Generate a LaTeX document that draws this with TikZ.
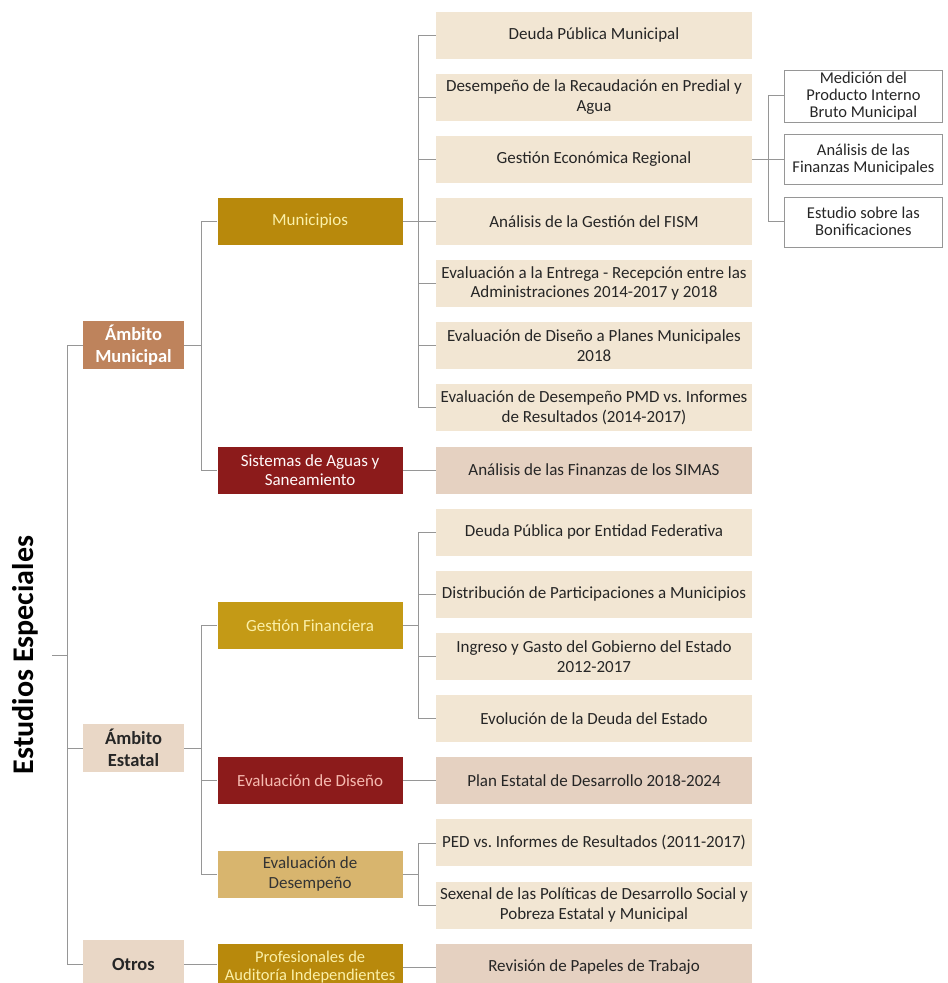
\documentclass[tikz,border=0pt]{standalone}
\usepackage{fontspec}
\setmainfont{Carlito}
\usetikzlibrary{positioning,calc}
\frenchspacing

\definecolor{studyBeige}{RGB}{242,230,211}
\definecolor{studyPink}{RGB}{229,209,193}
\definecolor{ambitBrown}{RGB}{190,131,92}
\definecolor{ambitBeige}{RGB}{233,215,198}
\definecolor{goldDark}{RGB}{184,137,12}
\definecolor{goldMid}{RGB}{196,154,22}
\definecolor{redDark}{RGB}{140,27,27}
\definecolor{tanLight}{RGB}{216,181,110}
\definecolor{paleYellow}{RGB}{251,240,168}
\definecolor{palePink}{RGB}{246,186,176}
\definecolor{linkGray}{RGB}{150,150,150}

\begin{document}
\begin{tikzpicture}[x=1pt,y=-1pt,>=latex,node distance=14.75pt]
    \useasboundingbox (0,0) rectangle (948,983);

    %
    % Styles for boxes and links
    %
    \tikzstyle{box} = [rectangle, inner sep=2pt, align=center, font={\fontsize{17}{19.5}\selectfont}]
    \tikzstyle{study} = [box, fill=studyBeige, text=black!85, minimum height=47pt, minimum width=316pt]
    \tikzstyle{studyAlt} = [study, fill=studyPink]
    \tikzstyle{group} = [box, minimum height=47pt, minimum width=185pt]
    \tikzstyle{ambit} = [box, minimum height=48pt, minimum width=101pt, font={\fontsize{18.5}{22}\selectfont\bfseries}]
    \tikzstyle{detail} = [box, draw=linkGray, fill=white, minimum height=50pt, minimum width=158pt,
                          font={\fontsize{16.5}{17}\selectfont}, text=black!85]
    \tikzstyle{link} = [draw=linkGray, line width=0.9pt]

    %
    % Column of studies
    %
    \node[study, name=deudamun] at (594,35) {Deuda Pública Municipal};
    \node[study, name=recaud, below=of deudamun] {Desempeño de la Recaudación en Predial y\\Agua};
    \node[study, name=gestreg, below=of recaud] {Gestión Económica Regional};
    \node[study, name=fism, below=of gestreg] {Análisis de la Gestión del FISM};
    \node[study, name=entrega, below=of fism] {Evaluación a la Entrega - Recepción entre las\\Administraciones 2014-2017 y 2018};
    \node[study, name=planes, below=of entrega] {Evaluación de Diseño a Planes Municipales\\2018};
    \node[study, name=pmd, below=of planes] {Evaluación de Desempeño PMD vs. Informes\\de Resultados (2014-2017)};
    \node[studyAlt, name=simas, below=of pmd] {Análisis de las Finanzas de los SIMAS};
    \node[study, name=deudaent, below=of simas] {Deuda Pública por Entidad Federativa};
    \node[study, name=distrib, below=of deudaent] {Distribución de Participaciones a Municipios};
    \node[study, name=ingreso, below=of distrib] {Ingreso y Gasto del Gobierno del Estado\\2012-2017};
    \node[study, name=evoldeuda, below=of ingreso] {Evolución de la Deuda del Estado};
    \node[studyAlt, name=ped, below=of evoldeuda] {Plan Estatal de Desarrollo 2018-2024};
    \node[study, name=pedinf, below=of ped] {PED vs. Informes de Resultados (2011-2017)};
    \node[study, name=sexenal, below=of pedinf] {Sexenal de las Políticas de Desarrollo Social y\\Pobreza Estatal y Municipal};
    \node[studyAlt, name=papeles, below=of sexenal] {Revisión de Papeles de Trabajo};

    %
    % Details of the regional study
    %
    \node[detail, name=finanzas, right=32pt of gestreg] {Análisis de las\\Finanzas Municipales};
    \node[detail, name=pib, above=12pt of finanzas] {Medición del\\Producto Interno\\Bruto Municipal};
    \node[detail, name=bonif, below=12pt of finanzas] {Estudio sobre las\\Bonificaciones};

    %
    % Groups
    %
    \coordinate (gfmid) at ($(distrib.west)!0.5!(ingreso.west)$);
    \coordinate (edmid) at ($(pedinf.west)!0.5!(sexenal.west)$);
    \node[group, name=municipios, left=33pt of fism, fill=goldDark, text=paleYellow] {Municipios};
    \node[group, name=sistemas, left=33pt of simas, fill=redDark, text=white!90!pink] {Sistemas de Aguas y\\Saneamiento};
    \node[group, name=gestfin, left=33pt of gfmid, fill=goldMid, text=paleYellow] {Gestión Financiera};
    \node[group, name=evaldis, left=33pt of ped, fill=redDark, text=palePink] {Evaluación de Diseño};
    \node[group, name=evaldes, left=33pt of edmid, fill=tanLight, text=black!80] {Evaluación de\\Desempeño};
    \node[group, name=auditoria, left=33pt of papeles, fill=goldDark, text=paleYellow,
          font={\fontsize{16.5}{18}\selectfont}] {Profesionales de\\Auditoría Independientes};

    %
    % Scopes and title
    %
    \node[ambit, name=ambmun, fill=ambitBrown, text=white] at (133.5,345) {Ámbito\\Municipal};
    \node[ambit, name=ambest, fill=ambitBeige, text=black!85] at (133.5,748) {Ámbito\\Estatal};
    \node[ambit, name=otros, fill=ambitBeige, text=black!85] at (133.5,964) {Otros};
    \node[rotate=90, font={\fontsize{30}{34}\selectfont\bfseries}, name=titulo] at (25,655) {Estudios Especiales};
    \coordinate (tituloend) at (52,655);

    %
    % Links
    %
    \draw[link] (tituloend) -- ++(15,0) |- (ambmun.west);
    \draw[link] (tituloend) -- ++(15,0) |- (ambest.west);
    \draw[link] (tituloend) -- ++(15,0) |- (otros.west);

    \draw[link] (ambmun.east) -- ++(17,0) |- (municipios.west);
    \draw[link] (ambmun.east) -- ++(17,0) |- (sistemas.west);
    \draw[link] (ambest.east) -- ++(17,0) |- (gestfin.west);
    \draw[link] (ambest.east) -- ++(17,0) |- (evaldis.west);
    \draw[link] (ambest.east) -- ++(17,0) |- (evaldes.west);
    \draw[link] (otros.east) -- (otros.east -| auditoria.west);

    \draw[link] (municipios.east) -- ++(16,0) |- (deudamun.west);
    \draw[link] (municipios.east) -- ++(16,0) |- (recaud.west);
    \draw[link] (municipios.east) -- ++(16,0) |- (gestreg.west);
    \draw[link] (municipios.east) -- (fism.west);
    \draw[link] (municipios.east) -- ++(16,0) |- (entrega.west);
    \draw[link] (municipios.east) -- ++(16,0) |- (planes.west);
    \draw[link] (municipios.east) -- ++(16,0) |- (pmd.west);
    \draw[link] (sistemas.east) -- (simas.west);

    \draw[link] (gestfin.east) -- ++(16,0) |- (deudaent.west);
    \draw[link] (gestfin.east) -- ++(16,0) |- (distrib.west);
    \draw[link] (gestfin.east) -- ++(16,0) |- (ingreso.west);
    \draw[link] (gestfin.east) -- ++(16,0) |- (evoldeuda.west);
    \draw[link] (evaldis.east) -- (ped.west);
    \draw[link] (evaldes.east) -- ++(16,0) |- (pedinf.west);
    \draw[link] (evaldes.east) -- ++(16,0) |- (sexenal.west);
    \draw[link] (auditoria.east) -- (papeles.west);

    \draw[link] (gestreg.east) -- ++(16,0) |- (pib.west);
    \draw[link] (gestreg.east) -- (finanzas.west);
    \draw[link] (gestreg.east) -- ++(16,0) |- (bonif.west);
\end{tikzpicture}
\end{document}
